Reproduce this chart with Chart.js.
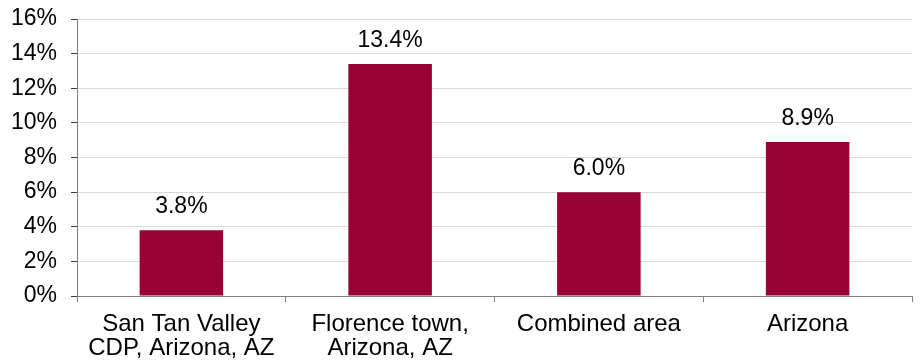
<!DOCTYPE html>
<html>
<head>
<meta charset="utf-8">
<script src="https://cdn.jsdelivr.net/npm/chart.js@4.4.0/dist/chart.umd.min.js"></script>
<style>
  html, body { margin: 0; padding: 0; background: #fff; }
  #wrap { width: 920px; height: 360px; }
</style>
</head>
<body>
<div id="wrap"><canvas id="chart"></canvas></div>
<script>
var categories = [
    ['San Tan Valley', 'CDP, Arizona, AZ'],
    ['Florence town,', 'Arizona, AZ'],
    'Combined area',
    'Arizona'
];
var values = [3.8, 13.4, 6.0, 8.9];
var yTicks = [0, 2, 4, 6, 8, 10, 12, 14, 16];

var barColor = '#990033';
var fontFamily = '"Liberation Sans", Arial, sans-serif';

// labels above the bars
var valueLabels = {
    id: 'valueLabels',
    afterDatasetsDraw: function(chart) {
        var ctx = chart.ctx;
        var meta = chart.getDatasetMeta(0);
        ctx.save();
        ctx.font = '23px ' + fontFamily;
        ctx.fillStyle = '#000';
        ctx.textAlign = 'center';
        ctx.textBaseline = 'bottom';
        meta.data.forEach(function(bar, i) {
            ctx.fillText(values[i].toFixed(1) + '%', bar.x, bar.y - 12);
        });
        ctx.restore();
    }
};

var ctx = document.getElementById('chart');
var g = new Chart(ctx, {
    type: 'bar',
    data: {
        labels: categories,
        datasets: [{
            data: values,
            backgroundColor: barColor,
            borderWidth: 0,
            categoryPercentage: 0.8,
            barPercentage: 0.5
        }]
    },
    options: {
        responsive: true,
        maintainAspectRatio: false,
        animation: false,
        layout: { padding: { top: 19, right: 8, bottom: 0, left: 0 } },
        plugins: {
            legend: { display: false },
            tooltip: { enabled: false }
        },
        scales: {
            x: {
                afterFit: function(axis) {
                    axis.height = 64;
                },
                grid: {
                    offset: true,
                    drawOnChartArea: false,
                    tickLength: 6,
                    tickColor: '#808080'
                },
                border: { color: '#808080', width: 1 },
                ticks: {
                    color: '#000',
                    padding: 10,
                    maxRotation: 0,
                    font: { family: fontFamily, size: 24, lineHeight: 1.0 }
                }
            },
            y: {
                min: 0,
                max: 16,
                afterBuildTicks: function(axis) {
                    axis.ticks = yTicks.map(function(v) { return { value: v }; });
                },
                afterFit: function(axis) {
                    axis.width = 77;
                    axis.paddingTop = 0;
                    axis.paddingBottom = 0;
                },
                grid: {
                    color: '#d9d9d9',
                    tickColor: '#404040',
                    tickLength: 6
                },
                border: { color: '#808080', width: 1 },
                ticks: {
                    color: '#000',
                    padding: 14,
                    font: { family: fontFamily, size: 23 },
                    callback: function(v) { return v + '%'; }
                }
            }
        }
    },
    plugins: [valueLabels]
});
</script>
</body>
</html>
